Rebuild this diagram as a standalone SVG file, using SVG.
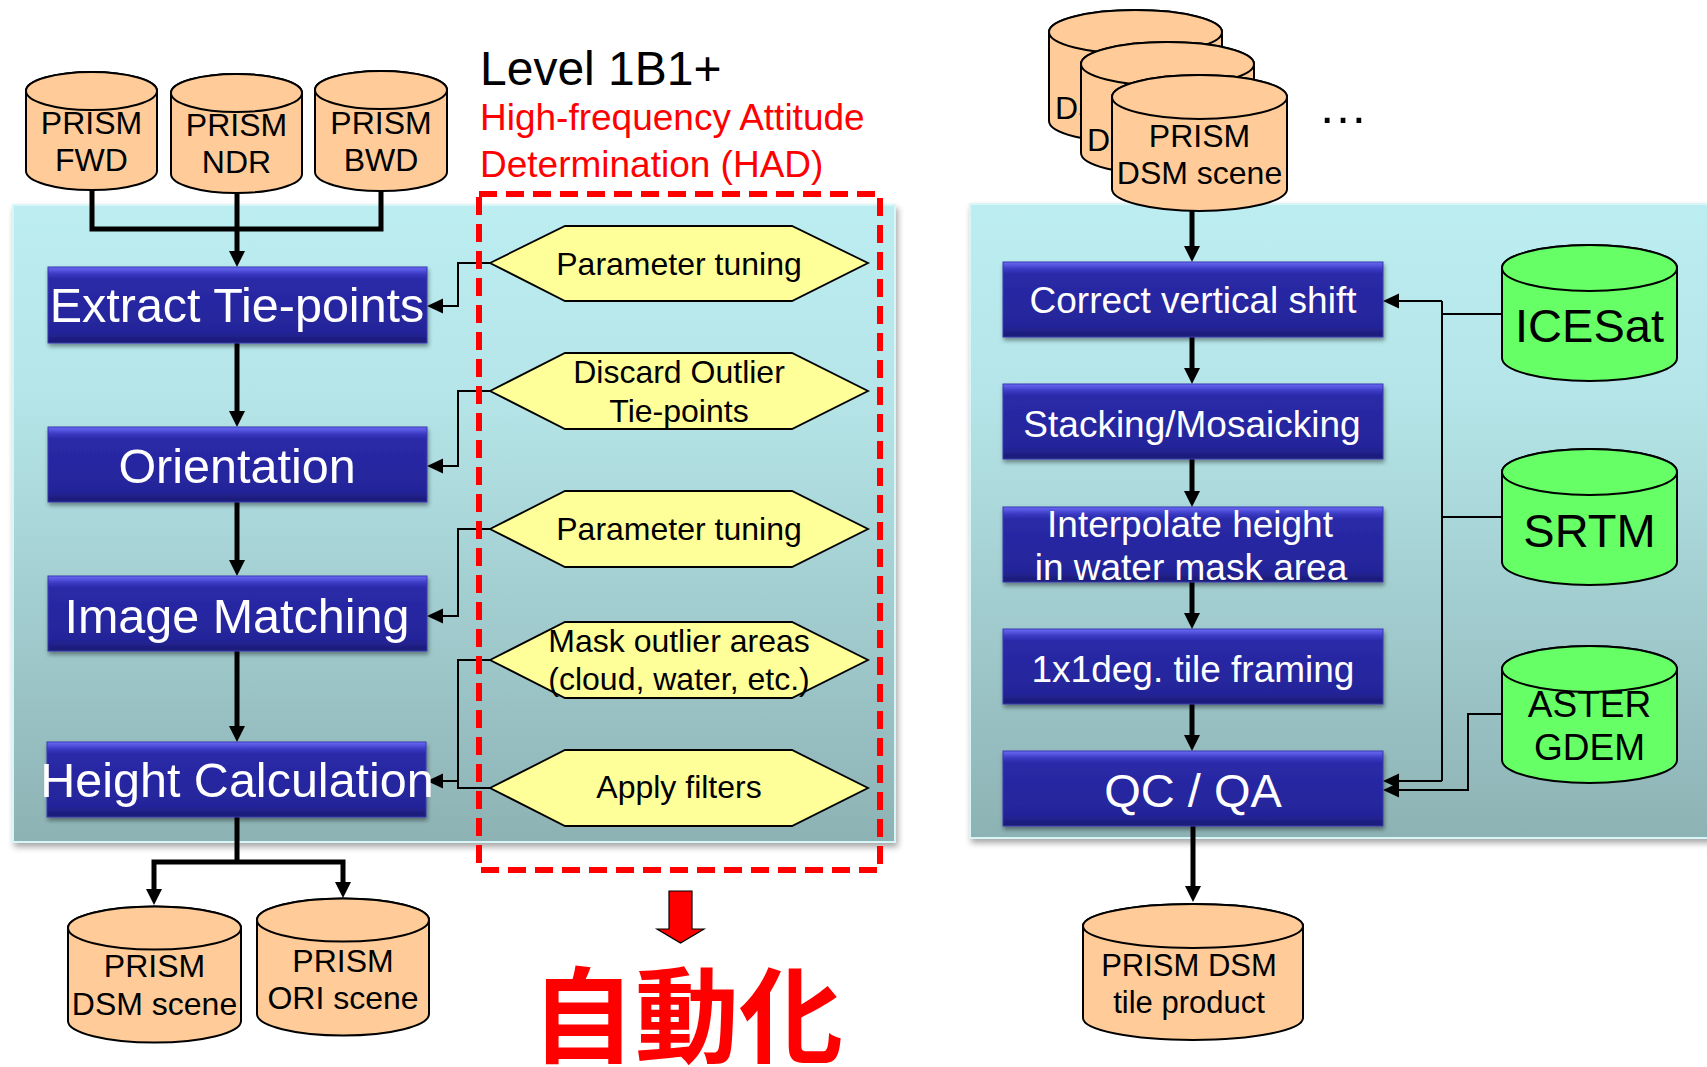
<svg xmlns="http://www.w3.org/2000/svg" width="1707" height="1067" viewBox="0 0 1707 1067">
<defs>
<linearGradient id="gPanel" x1="0" y1="0" x2="0" y2="1">
<stop offset="0" stop-color="#bcedf0"/>
<stop offset="0.3" stop-color="#b5e5e8"/>
<stop offset="1" stop-color="#8db2b4"/>
</linearGradient>
<linearGradient id="gBox" x1="0" y1="0" x2="0" y2="1">
<stop offset="0" stop-color="#6c6cf6"/>
<stop offset="0.09" stop-color="#3a3ac4"/>
<stop offset="0.16" stop-color="#2a2aa8"/>
<stop offset="0.85" stop-color="#24249a"/>
<stop offset="1" stop-color="#1b1b74"/>
</linearGradient>
<filter id="shP" x="-5%" y="-5%" width="110%" height="112%">
<feDropShadow dx="2" dy="4" stdDeviation="3" flood-color="#000" flood-opacity="0.35"/>
</filter>
<filter id="shB" x="-5%" y="-10%" width="110%" height="130%">
<feDropShadow dx="1" dy="3" stdDeviation="2" flood-color="#000" flood-opacity="0.4"/>
</filter>
<marker id="ah" markerUnits="userSpaceOnUse" markerWidth="16" markerHeight="16" refX="8" refY="8" orient="auto">
<path d="M0,0 L16,8 L0,16 Z" fill="#000"/>
</marker>
<marker id="ahs" markerUnits="userSpaceOnUse" markerWidth="16" markerHeight="16" refX="8" refY="8" orient="auto">
<path d="M0,0.5 L16,8 L0,15.5 Z" fill="#000"/>
</marker>
</defs>
<style>
.panel{fill:url(#gPanel);stroke:#d8f6f8;stroke-width:2;filter:url(#shP)}
.box{fill:url(#gBox);stroke:#3838b0;stroke-width:1;filter:url(#shB)}
.bt{font-family:"Liberation Sans",Arial,sans-serif;fill:#fff;text-anchor:middle}
.cyl{fill:#ffcc99;stroke:#000;stroke-width:2}
.cylg{fill:#66ff66;stroke:#000;stroke-width:2}
.ct{font-family:"Liberation Sans",Arial,sans-serif;fill:#000;text-anchor:middle}
.cts{font-family:"Liberation Sans",Arial,sans-serif;fill:#000;text-anchor:start}
.hex{fill:#ffff99;stroke:#000;stroke-width:1.8}
.ht{font-family:"Liberation Sans",Arial,sans-serif;fill:#000;text-anchor:middle;font-size:32px}
.thick{fill:none;stroke:#000;stroke-width:5;marker-end:url(#ah)}
.thin{fill:none;stroke:#000;stroke-width:2}
.thina{fill:none;stroke:#000;stroke-width:2;marker-end:url(#ahs)}
.red{font-family:"Liberation Sans",Arial,sans-serif;fill:#ff0000}
</style>

<!-- panels -->
<rect id="panel-left" class="panel" x="13" y="205" width="882" height="637"/>
<rect id="panel-right" class="panel" x="970" y="204" width="760" height="634"/>

<!-- titles -->
<g id="title">
<text x="480" y="85" font-family="Liberation Sans, Arial, sans-serif" font-size="48" fill="#000">Level 1B1+</text>
<text class="red" x="480" y="130" font-size="37">High-frequency Attitude</text>
<text class="red" x="480" y="177" font-size="37">Determination (HAD)</text>
</g>

<!-- connectors -->
<g id="connectors">
<path class="thin" d="M92,190 V229 H381 V191" style="stroke-width:5"/>
<path class="thick" d="M237,193 V259"/>
<path class="thick" d="M237,343 V419"/>
<path class="thick" d="M237,502 V568"/>
<path class="thick" d="M237,651 V734"/>
<path class="thin" d="M237,817 V862" style="stroke-width:5"/>
<path class="thick" d="M237,862 H154 V897"/>
<path class="thick" d="M237,862 H343 V890"/>
<path class="thina" d="M490,263 H458 V306 H435"/>
<path class="thina" d="M490,391 H458 V466 H435"/>
<path class="thina" d="M490,529 H458 V616 H435"/>
<path class="thin" d="M490,660 H458 V788 H490"/>
<path class="thina" d="M458,781 H435"/>
<path class="thick" d="M1192,211 V254"/>
<path class="thick" d="M1192,337 V376"/>
<path class="thick" d="M1192,459 V499"/>
<path class="thick" d="M1192,582 V621"/>
<path class="thick" d="M1192,704 V743"/>
<path class="thick" d="M1193,826 V894"/>
<path class="thin" d="M1502,314 H1442"/>
<path class="thin" d="M1442,301 V781"/>
<path class="thina" d="M1442,301 H1391"/>
<path class="thina" d="M1442,781 H1391"/>
<path class="thin" d="M1502,517 H1442"/>
<path class="thina" d="M1502,714 H1468 V790 H1391"/>
</g>

<!-- input cylinders -->
<g id="cyl-fwd">
<path class="cyl" d="M26,91 A65.5,19 0 0 1 157,91 V171 A65.5,19 0 0 1 26,171 Z"/>
<ellipse class="cyl" cx="91.5" cy="91" rx="65.5" ry="19"/>
<text class="ct" x="91.5" y="134" font-size="32">PRISM</text>
<text class="ct" x="91.5" y="171" font-size="32">FWD</text>
</g>
<g id="cyl-ndr">
<path class="cyl" d="M171,93 A65.5,19 0 0 1 302,93 V174 A65.5,19 0 0 1 171,174 Z"/>
<ellipse class="cyl" cx="236.5" cy="93" rx="65.5" ry="19"/>
<text class="ct" x="236.5" y="136" font-size="32">PRISM</text>
<text class="ct" x="236.5" y="173" font-size="32">NDR</text>
</g>
<g id="cyl-bwd">
<path class="cyl" d="M315,90 A66,19 0 0 1 447,90 V172 A66,19 0 0 1 315,172 Z"/>
<ellipse class="cyl" cx="381" cy="90" rx="66" ry="19"/>
<text class="ct" x="381" y="134" font-size="32">PRISM</text>
<text class="ct" x="381" y="171" font-size="32">BWD</text>
</g>

<!-- left process boxes -->
<g id="box-extract">
<rect class="box" x="48" y="267" width="379" height="76"/>
<text class="bt" x="237" y="322" font-size="48.5">Extract Tie-points</text>
</g>
<g id="box-orientation">
<rect class="box" x="48" y="427" width="379" height="75"/>
<text class="bt" x="237" y="483" font-size="48.5">Orientation</text>
</g>
<g id="box-matching">
<rect class="box" x="48" y="576" width="379" height="75"/>
<text class="bt" x="237" y="633" font-size="48.5">Image Matching</text>
</g>
<g id="box-height">
<rect class="box" x="47" y="742" width="379" height="75"/>
<text class="bt" x="237" y="797" font-size="48.5">Height Calculation</text>
</g>

<!-- HAD hexagons -->
<g id="hex-param1">
<polygon class="hex" points="490,263 565,226 792,226 868,263 792,301 565,301"/>
<text class="ht" x="679" y="275">Parameter tuning</text>
</g>
<g id="hex-discard">
<polygon class="hex" points="490,391 565,353 792,353 868,391 792,429 565,429"/>
<text class="ht" x="679" y="383">Discard Outlier</text>
<text class="ht" x="679" y="422">Tie-points</text>
</g>
<g id="hex-param2">
<polygon class="hex" points="490,529 565,491 792,491 868,529 792,567 565,567"/>
<text class="ht" x="679" y="540">Parameter tuning</text>
</g>
<g id="hex-mask">
<polygon class="hex" points="490,660 565,622 792,622 868,660 792,698 565,698"/>
<text class="ht" x="679" y="652">Mask outlier areas</text>
<text class="ht" x="679" y="690">(cloud, water, etc.)</text>
</g>
<g id="hex-filters">
<polygon class="hex" points="490,788 565,750 792,750 868,788 792,826 565,826"/>
<text class="ht" x="679" y="798">Apply filters</text>
</g>

<!-- HAD dashed frame -->
<rect id="had-frame" x="479" y="194" width="401" height="676" fill="none" stroke="#ff0000" stroke-width="6" stroke-dasharray="18 9"/>

<!-- output cylinders left -->
<g id="cyl-dsm-scene">
<path class="cyl" d="M68,928 A86.5,21.5 0 0 1 241,928 V1021 A86.5,21.5 0 0 1 68,1021 Z"/>
<ellipse class="cyl" cx="154.5" cy="928" rx="86.5" ry="21.5"/>
<text class="ct" x="154.5" y="977" font-size="32">PRISM</text>
<text class="ct" x="154.5" y="1015" font-size="32">DSM scene</text>
</g>
<g id="cyl-ori-scene">
<path class="cyl" d="M257,920 A86,21.5 0 0 1 429,920 V1014 A86,21.5 0 0 1 257,1014 Z"/>
<ellipse class="cyl" cx="343" cy="920" rx="86" ry="21.5"/>
<text class="ct" x="343" y="972" font-size="32">PRISM</text>
<text class="ct" x="343" y="1009" font-size="32">ORI scene</text>
</g>

<!-- automation arrow + label -->
<g id="auto">
<polygon points="669,891 692,891 692,929 704,929 680.5,943 657,929 669,929" fill="#ff0000" stroke="#000" stroke-width="1.2"/>
<text x="687" y="1055" font-family="Noto Sans CJK JP, Noto Sans CJK SC, sans-serif" font-weight="bold" font-size="104" fill="#ff0000" text-anchor="middle">自動化</text>
</g>

<!-- stacked DSM scene cylinders -->
<g id="cyl-dsm-stack-1">
<path class="cyl" d="M1049,32 A86.5,22 0 0 1 1222,32 V121 A86.5,22 0 0 1 1049,121 Z"/>
<ellipse class="cyl" cx="1135.5" cy="32" rx="86.5" ry="22"/>
<text class="cts" x="1055" y="119" font-size="32">DS</text>
</g>
<g id="cyl-dsm-stack-2">
<path class="cyl" d="M1081,64 A86.5,22 0 0 1 1254,64 V153 A86.5,22 0 0 1 1081,153 Z"/>
<ellipse class="cyl" cx="1167.5" cy="64" rx="86.5" ry="22"/>
<text class="cts" x="1087" y="151" font-size="32">DS</text>
</g>
<g id="cyl-dsm-stack-3">
<path class="cyl" d="M1112,97 A87.5,22 0 0 1 1287,97 V189 A87.5,22 0 0 1 1112,189 Z"/>
<ellipse class="cyl" cx="1199.5" cy="97" rx="87.5" ry="22"/>
<text class="ct" x="1199.5" y="147" font-size="32">PRISM</text>
<text class="ct" x="1199.5" y="184" font-size="32">DSM scene</text>
</g>
<text id="ellipsis" x="1318" y="123" font-family="Liberation Sans, Arial, sans-serif" font-size="50" fill="#000">…</text>

<!-- right process boxes -->
<g id="box-correct">
<rect class="box" x="1003" y="262" width="380" height="75"/>
<text class="bt" x="1193" y="313" font-size="37">Correct vertical shift</text>
</g>
<g id="box-stacking">
<rect class="box" x="1003" y="384" width="380" height="75"/>
<text class="bt" x="1192" y="437" font-size="37">Stacking/Mosaicking</text>
</g>
<g id="box-interpolate">
<rect class="box" x="1003" y="507" width="380" height="75"/>
<text class="bt" x="1190" y="537" font-size="37">Interpolate height</text>
<text class="bt" x="1191" y="580" font-size="37">in water mask area</text>
</g>
<g id="box-tile">
<rect class="box" x="1003" y="629" width="380" height="75"/>
<text class="bt" x="1193" y="682" font-size="37">1x1deg. tile framing</text>
</g>
<g id="box-qc">
<rect class="box" x="1003" y="751" width="380" height="75"/>
<text class="bt" x="1193" y="807" font-size="47">QC / QA</text>
</g>

<!-- reference DEM cylinders -->
<g id="cyl-icesat">
<path class="cylg" d="M1502,268 A87.5,23 0 0 1 1677,268 V358 A87.5,23 0 0 1 1502,358 Z"/>
<ellipse class="cylg" cx="1589.5" cy="268" rx="87.5" ry="23"/>
<text class="ct" x="1589.5" y="342" font-size="47">ICESat</text>
</g>
<g id="cyl-srtm">
<path class="cylg" d="M1502,472 A87.5,23 0 0 1 1677,472 V562 A87.5,23 0 0 1 1502,562 Z"/>
<ellipse class="cylg" cx="1589.5" cy="472" rx="87.5" ry="23"/>
<text class="ct" x="1589.5" y="547" font-size="47">SRTM</text>
</g>
<g id="cyl-aster">
<path class="cylg" d="M1502,669 A87.5,23 0 0 1 1677,669 V760 A87.5,23 0 0 1 1502,760 Z"/>
<ellipse class="cylg" cx="1589.5" cy="669" rx="87.5" ry="23"/>
<text class="ct" x="1589.5" y="717" font-size="37">ASTER</text>
<text class="ct" x="1589.5" y="760" font-size="37">GDEM</text>
</g>

<!-- final product -->
<g id="cyl-tile-product">
<path class="cyl" d="M1083,926 A110,22 0 0 1 1303,926 V1018 A110,22 0 0 1 1083,1018 Z"/>
<ellipse class="cyl" cx="1193" cy="926" rx="110" ry="22"/>
<text class="ct" x="1189" y="976" font-size="31">PRISM DSM</text>
<text class="ct" x="1189" y="1013" font-size="31">tile product</text>
</g>
</svg>
